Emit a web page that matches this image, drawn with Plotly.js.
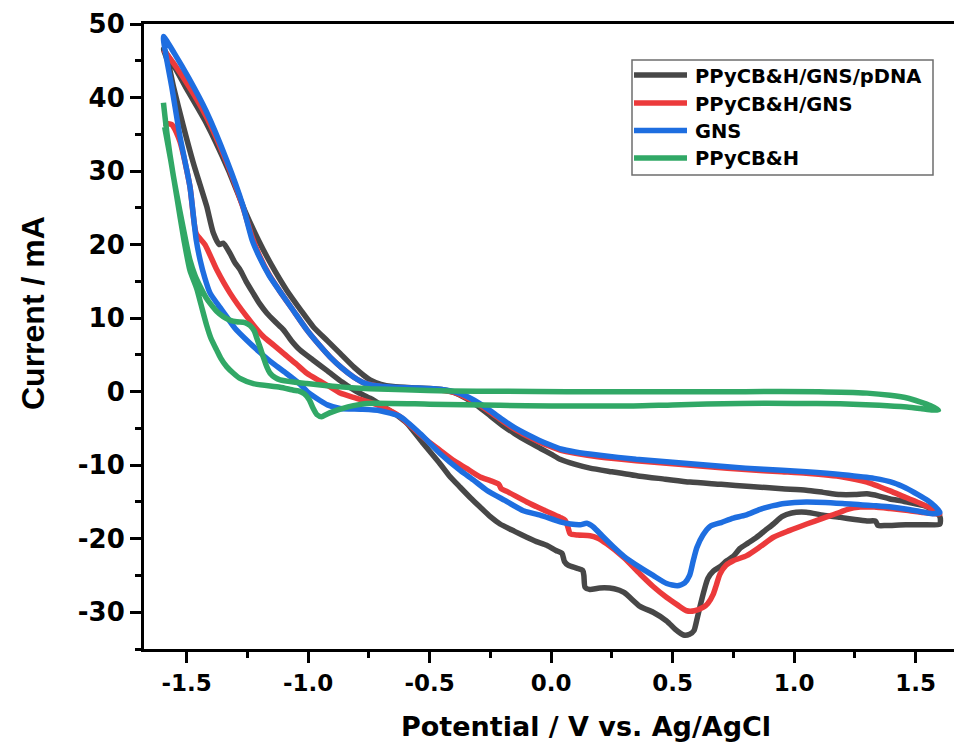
<!DOCTYPE html>
<html>
<head>
<meta charset="utf-8">
<script src="https://cdn.plot.ly/plotly-3.0.1.min.js"></script>
<style>html,body{margin:0;padding:0;background:#fff;}#chart{width:954px;height:749px;}</style>
</head>
<body>
<div id="chart"></div>
<script>
// ---------------- data ----------------
const seriesNames = ['PPyCB&H/GNS/pDNA', 'PPyCB&H/GNS', 'GNS', 'PPyCB&H'];
const seriesColors = ['#474747', '#ec3a3b', '#1e6ee0', '#31a866'];

const pdnaX = [-1.595,-1.55,-1.5,-1.42,-1.33,-1.26,-1.204,-1.15,-1.088,-1.03,-0.978,-0.92,-0.868,-0.81,-0.745,-0.7,-0.65,-0.55,-0.45,-0.4,-0.35,-0.3,-0.25,-0.2,-0.15,-0.1,-0.045,0.0,0.037,0.1,0.16,0.25,0.366,0.47,0.572,0.7,0.82,0.95,1.05,1.12,1.19,1.25,1.3,1.35,1.395,1.45,1.49,1.535,1.57,1.6,
  1.6,1.53,1.46,1.38,1.345,1.335,1.3,1.25,1.19,1.12,1.05,0.99,0.95,0.915,0.88,0.846,0.81,0.778,0.75,0.723,0.695,0.668,0.645,0.63,0.613,0.6,0.588,0.57,0.545,0.51,0.476,0.42,0.366,0.3,0.26,0.2,0.16,0.14,0.135,0.13,0.105,0.07,0.055,0.045,0.02,-0.018,-0.06,-0.1,-0.15,-0.21,-0.25,-0.292,-0.33,-0.374,-0.42,-0.457,-0.525,-0.593,-0.63,-0.663,-0.7,-0.745,-0.8,-0.86,-0.923,-0.98,-1.033,-1.07,-1.101,-1.135,-1.17,-1.2,-1.226,-1.255,-1.28,-1.3,-1.321,-1.349,-1.365,-1.39,-1.417,-1.445,-1.472,-1.513,-1.554,-1.575,-1.595];
const pdnaY = [46.6,44.2,41.2,36.6,30.3,24.6,20.6,17.2,13.8,11.1,8.8,6.9,5.2,3.3,1.6,1.0,0.7,0.5,0.3,-0.1,-0.9,-2.0,-3.3,-4.6,-5.7,-6.7,-7.7,-8.5,-9.2,-9.9,-10.4,-10.9,-11.5,-11.9,-12.3,-12.6,-12.9,-13.2,-13.4,-13.7,-14.0,-14.0,-13.9,-14.2,-14.6,-14.9,-15.2,-15.5,-16.1,-17.0,
  -18.0,-18.1,-18.1,-18.2,-18.2,-17.6,-17.6,-17.4,-17.1,-16.8,-16.4,-16.5,-17.0,-18.0,-18.9,-19.8,-20.6,-21.3,-22.4,-23.0,-23.8,-24.4,-25.4,-27.0,-29.2,-31.0,-32.5,-33.0,-33.1,-32.3,-31.2,-30.0,-29.2,-27.3,-26.8,-26.7,-26.9,-26.6,-25.0,-24.3,-24.0,-23.6,-23.1,-22.0,-21.6,-20.9,-20.4,-19.8,-19.0,-18.0,-17.0,-15.7,-14.5,-13.0,-11.4,-9.8,-7.1,-4.3,-3.3,-2.6,-1.8,-0.9,0.0,1.3,2.9,4.3,5.65,7.0,8.4,9.5,10.7,12.0,13.4,15.0,16.6,17.5,18.8,20.2,20.0,21.6,25.2,28.2,31.1,36.1,41.5,44.7,46.6];

const gnsPX = [-1.595,-1.55,-1.49,-1.42,-1.335,-1.27,-1.23,-1.2,-1.16,-1.115,-1.06,-1.005,-0.95,-0.909,-0.86,-0.813,-0.77,-0.72,-0.65,-0.55,-0.45,-0.4,-0.35,-0.3,-0.25,-0.2,-0.15,-0.1,-0.05,0.0,0.04,0.1,0.2,0.35,0.5,0.65,0.8,0.95,1.05,1.2,1.3,1.395,1.46,1.52,1.56,1.6,
  1.55,1.45,1.395,1.33,1.272,1.22,1.189,1.12,1.052,0.98,0.915,0.86,0.805,0.75,0.72,0.695,0.68,0.668,0.645,0.627,0.59,0.558,0.52,0.476,0.42,0.366,0.3,0.229,0.19,0.16,0.11,0.078,0.07,0.058,0.037,-0.03,-0.1,-0.18,-0.205,-0.215,-0.25,-0.292,-0.35,-0.404,-0.46,-0.512,-0.57,-0.621,-0.68,-0.731,-0.8,-0.868,-0.909,-0.96,-1.005,-1.05,-1.101,-1.14,-1.184,-1.252,-1.321,-1.376,-1.424,-1.46,-1.486,-1.527,-1.56,-1.595];
const gnsPY = [46.5,44.5,41.5,37.5,31.2,25.3,21.0,18.5,15.9,13.6,11.0,8.4,6.2,4.7,3.2,2.0,1.2,0.8,0.5,0.4,0.2,-0.1,-0.8,-1.7,-2.8,-4.0,-5.1,-6.0,-6.8,-7.5,-8.0,-8.4,-8.9,-9.4,-9.8,-10.2,-10.6,-10.9,-11.1,-11.6,-12.3,-13.5,-14.4,-15.2,-15.8,-16.6,
  -16.5,-16.1,-15.9,-15.7,-15.7,-16.0,-16.4,-17.2,-18.0,-18.9,-19.8,-21.1,-22.3,-23.0,-23.6,-24.8,-26.3,-27.5,-28.8,-29.3,-29.8,-29.8,-29.0,-28.0,-26.5,-24.8,-22.6,-20.7,-19.9,-19.6,-19.5,-19.3,-18.5,-17.5,-17.1,-16.1,-15.0,-13.6,-13.2,-12.6,-12.1,-11.6,-10.4,-9.3,-7.9,-6.6,-4.9,-3.4,-2.3,-1.6,-0.9,-0.2,0.65,1.6,2.5,3.8,5.2,6.3,7.5,10.2,13.4,16.6,20.0,21.5,27.9,34.0,36.3,36.5];

const gnsX = [-1.595,-1.55,-1.49,-1.42,-1.335,-1.27,-1.23,-1.2,-1.16,-1.115,-1.06,-1.005,-0.95,-0.909,-0.86,-0.813,-0.77,-0.72,-0.65,-0.55,-0.45,-0.4,-0.35,-0.3,-0.25,-0.2,-0.15,-0.1,-0.05,0.0,0.04,0.1,0.2,0.35,0.5,0.65,0.8,0.95,1.05,1.2,1.33,1.41,1.46,1.51,1.55,1.58,1.6,
  1.57,1.5,1.4,1.326,1.2,1.05,0.96,0.915,0.86,0.8,0.75,0.7,0.655,0.625,0.6,0.585,0.57,0.55,0.52,0.476,0.42,0.366,0.3,0.256,0.21,0.174,0.147,0.12,0.08,0.037,-0.045,-0.114,-0.19,-0.265,-0.32,-0.374,-0.457,-0.539,-0.621,-0.704,-0.78,-0.868,-0.92,-0.951,-1.0,-1.033,-1.09,-1.143,-1.2,-1.252,-1.3,-1.335,-1.37,-1.403,-1.425,-1.444,-1.46,-1.486,-1.527,-1.561,-1.585,-1.595];
const gnsY = [48.3,46.0,42.6,38.2,31.5,25.5,20.6,18.3,15.8,13.6,11.0,8.4,6.2,4.7,3.2,2.0,1.2,0.8,0.6,0.5,0.3,0.0,-0.6,-1.5,-2.6,-3.8,-4.9,-5.8,-6.6,-7.3,-7.8,-8.2,-8.65,-9.2,-9.6,-10.0,-10.4,-10.7,-10.9,-11.3,-11.8,-12.4,-13.1,-14.0,-14.8,-15.6,-16.4,
  -16.6,-16.2,-15.7,-15.5,-15.2,-15.0,-15.2,-15.5,-16.0,-16.8,-17.2,-17.8,-18.3,-19.5,-21.2,-23.0,-25.0,-26.0,-26.4,-26.1,-25.0,-23.9,-22.4,-21.1,-19.6,-18.4,-17.9,-18.1,-18.0,-17.7,-16.8,-16.2,-14.8,-13.4,-12.0,-10.7,-8.4,-5.7,-3.4,-2.6,-2.4,-2.3,-1.8,-1.2,-0.1,1.0,2.5,3.8,5.4,7.0,8.6,10.2,11.8,13.4,15.5,17.9,20.6,27.9,34.7,41.5,45.8,48.3];

const ppyX = [-1.595,-1.58,-1.555,-1.527,-1.5,-1.486,-1.465,-1.444,-1.42,-1.403,-1.375,-1.349,-1.32,-1.294,-1.26,-1.239,-1.222,-1.211,-1.195,-1.184,-1.17,-1.156,-1.135,-1.115,-1.06,-1.005,-0.93,-0.868,-0.745,-0.6,-0.416,-0.2,0.065,0.4,0.8,1.1,1.3,1.395,1.47,1.518,1.56,1.594,
  1.57,1.52,1.464,1.35,1.19,1.0,0.778,0.5,0.339,0.0,-0.21,-0.5,-0.759,-0.813,-0.86,-0.9,-0.925,-0.944,-0.964,-0.98,-0.995,-1.015,-1.04,-1.06,-1.115,-1.225,-1.28,-1.307,-1.335,-1.36,-1.376,-1.4,-1.417,-1.44,-1.458,-1.486,-1.51,-1.54,-1.565,-1.59];
const ppyY = [39.3,35.0,29.5,24.5,20.0,17.9,15.8,14.3,12.8,12.0,10.9,10.2,9.7,9.5,9.4,9.0,8.3,7.3,5.8,4.7,3.4,2.5,1.9,1.6,1.3,1.1,0.85,0.65,0.4,0.25,0.1,0.05,0.0,0.0,0.0,0.0,-0.2,-0.5,-0.9,-1.4,-1.9,-2.5,
  -2.5,-2.3,-2.1,-1.85,-1.65,-1.6,-1.6,-1.8,-1.95,-1.95,-1.85,-1.7,-1.6,-1.9,-2.3,-2.75,-3.1,-3.4,-3.1,-2.2,-1.1,-0.3,0.1,0.2,0.6,1.1,1.8,2.5,3.4,4.6,5.65,7.3,9.0,11.8,14.0,16.5,20.5,26.5,31.5,36.0];

const xTickVals = [-1.5, -1.0, -0.5, 0.0, 0.5, 1.0, 1.5];
const xTickText = ['-1.5', '-1.0', '-0.5', '0.0', '0.5', '1.0', '1.5'];
const yTickVals = [-30, -20, -10, 0, 10, 20, 30, 40, 50];
const yTickText = ['-30', '-20', '-10', '0', '10', '20', '30', '40', '50'];
const xTitle = 'Potential / V vs. Ag/AgCl';
const yTitle = 'Current / mA';

// ---------------- layout helpers ----------------
const L = 144, R = 954, T = 24, B = 649;
const px = v => (v - L) / (R - L);
const py = v => (B - v) / (B - T);
const HFONT = 'DejaVu Sans, Verdana, sans-serif';

const xs = [pdnaX, gnsPX, gnsX, ppyX];
const ys = [pdnaY, gnsPY, gnsY, ppyY];
const traces = xs.map((x, i) => ({
  type: 'scatter', mode: 'lines', x: x, y: ys[i], name: seriesNames[i],
  line: {color: seriesColors[i], width: 5.5, shape: 'spline', smoothing: 0.6},
  showlegend: false, hoverinfo: 'skip'
}));

const legendRows = [75, 103, 130.5, 158];
const shapes = [{
  type: 'rect', xref: 'paper', yref: 'paper',
  x0: px(632), x1: px(933), y0: py(175), y1: py(60),
  line: {color: '#6e6e6e', width: 1.5}, fillcolor: 'rgba(255,255,255,0)'
}];
const annotations = [];
seriesNames.forEach((n, i) => {
  shapes.push({type: 'line', xref: 'paper', yref: 'paper',
    x0: px(634), x1: px(687), y0: py(legendRows[i]), y1: py(legendRows[i]),
    line: {color: seriesColors[i], width: 5.5}});
  annotations.push({xref: 'paper', yref: 'paper', x: px(693), y: py(legendRows[i] + 1),
    xanchor: 'left', yanchor: 'middle', showarrow: false, text: n,
    font: {family: HFONT, size: 19.5, weight: 'bold', color: '#000'}});
});
annotations.push({xref: 'paper', yref: 'paper', x: px(586), y: py(726),
  xanchor: 'center', yanchor: 'middle', showarrow: false, text: xTitle,
  font: {family: HFONT, size: 27, weight: 'bold', color: '#000'}});
annotations.push({xref: 'paper', yref: 'paper', x: px(33), y: py(313), textangle: -90,
  xanchor: 'center', yanchor: 'middle', showarrow: false, text: yTitle,
  font: {family: 'Liberation Sans, Arial, sans-serif', size: 32, weight: 'bold', color: '#000'}});

const layout = {
  width: 954, height: 749,
  margin: {l: L, r: 954 - R, t: T, b: 749 - B, pad: 0},
  paper_bgcolor: '#fff', plot_bgcolor: '#fff',
  showlegend: false,
  xaxis: {
    range: [-1.675, 1.658], showgrid: false, zeroline: false,
    showline: true, linewidth: 3, linecolor: '#000', mirror: true,
    ticks: 'outside', ticklen: 11, tickwidth: 3, tickcolor: '#000',
    tickmode: 'array', tickvals: xTickVals, ticktext: xTickText,
    tickfont: {family: HFONT, size: 23, weight: 'bold', color: '#000'},
    minor: {tickmode: 'linear', tick0: -1.75, dtick: 0.25, ticks: 'outside', ticklen: 6, tickwidth: 3, tickcolor: '#000', showgrid: false}
  },
  yaxis: {
    range: [-35, 50], showgrid: false, zeroline: false,
    showline: true, linewidth: 3, linecolor: '#000', mirror: false,
    ticks: 'outside', ticklen: 11, tickwidth: 3, tickcolor: '#000',
    tickmode: 'array', tickvals: yTickVals, ticktext: yTickText,
    tickfont: {family: HFONT, size: 26, weight: 'bold', color: '#000'},
    minor: {tickmode: 'linear', tick0: -35, dtick: 5, ticks: 'outside', ticklen: 6, tickwidth: 3, tickcolor: '#000', showgrid: false}
  },
  shapes: shapes,
  annotations: annotations
};

Plotly.newPlot('chart', traces, layout, {displayModeBar: false, staticPlot: true});
</script>
</body>
</html>
